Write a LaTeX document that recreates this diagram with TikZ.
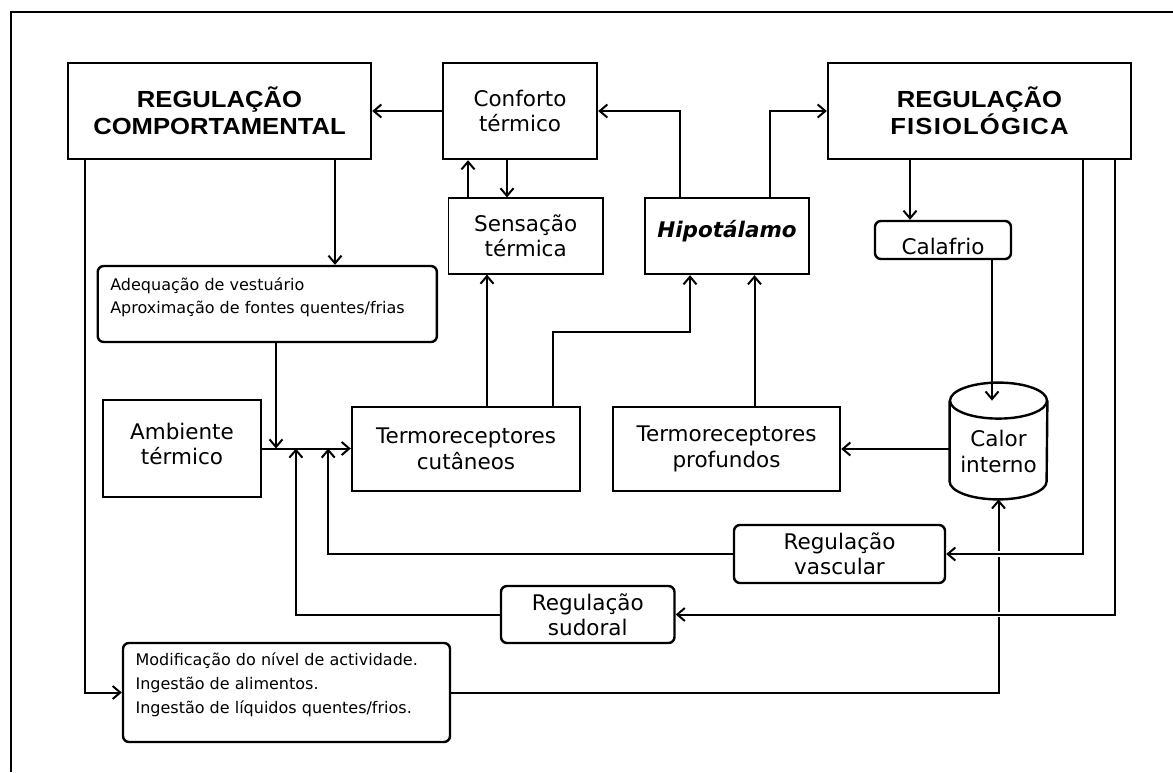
\documentclass[tikz,border=0pt]{standalone}
\usepackage{fontspec}
\setmainfont{DejaVu Sans}
\newfontfamily\headfont{Liberation Sans}[FakeStretch=1.1]
\usetikzlibrary{calc}
\usetikzlibrary{arrows.meta}
\tikzset{
	box/.style={
		draw,
		line width=1.2pt,
		align=center,
		inner sep=0pt,
		font=\fontsize{10.75}{12.75}\selectfont
	},
	headbox/.style={box, minimum width=151.5pt, minimum height=48pt,
		font=\headfont\bfseries\fontsize{11.65}{13.5}\selectfont},
	roundbox/.style={box, rounded corners=3pt},
	listbox/.style={roundbox, inner xsep=6.3pt, inner ysep=4pt},
	cylnode/.style={inner sep=0pt, align=center, minimum width=48.5pt,
		minimum height=58pt, font=\fontsize{10.75}{12.75}\selectfont},
	link/.style={line width=1pt, -{Straight Barb[length=3.8pt,width=6.5pt]}},
	gap/.style={preaction={draw=white, line width=2.8pt, -, shorten <=1pt, shorten >=1pt}}
}

\begin{document}
\begin{tikzpicture}[x=0.5pt,y=-0.5pt]
	\useasboundingbox (0,0) rectangle (1173,772);
	% frame
	\draw[line width=1.1pt] (11,772) -- (11,12) -- (1173,12);
	
	% (top row)
	\node[headbox] (regcomp) at (219.5,111) {REGULAÇÃO\\COMPORTAMENTAL};
	\node[box, minimum width=77pt, minimum height=48pt] (conforto) at (520,111) {Conforto\\térmico};
	\node[headbox] (regfis) at (979.5,111) {REGULAÇÃO\\{\addfontfeature{LetterSpace=5}FISIOLÓGICA}};
	
	\node[box, line width=0.6pt, minimum width=77.25pt, minimum height=38pt] (sensacao) at (525.7,236) {Sensação\\térmica};
	\node[box, minimum width=82pt, minimum height=38pt, text depth=7pt,
		font=\fontsize{10.75}{12.75}\selectfont\bfseries\itshape] (hipot) at (727,236) {Hipotálamo};
	\node[roundbox, minimum width=68pt, minimum height=19pt, text height=14pt, text depth=0pt] (calafrio) at (943,240) {Calafrio};
	\node[listbox, font=\fontsize{8}{11.5}\selectfont] (adequacao) at (267.3,304) {\parbox[c][30pt][t]{157pt}{\raggedright
			\vspace*{2pt}Adequação de vestuário\\Aproximação de fontes quentes/frias}};
	
	% (middle row)
	\node[box, minimum width=79pt, minimum height=48.5pt, text depth=4.5pt] (ambiente) at (182,448.5) {Ambiente\\térmico};
	\node[box, minimum width=114pt, minimum height=42pt] (termcut) at (466,449) {Termoreceptores\\cutâneos};
	\node[box, minimum width=113.5pt, minimum height=42pt] (termprof) at (726.5,449) {Termoreceptores\\profundos};
	\node[cylnode, text height=31pt, text depth=0pt] (calor) at (998.5,441) {Calor\\interno};
	\draw[line width=1.2pt] ($(calor.north west)+(0,18)$) -- ($(calor.south west)+(0,-18)$)
		arc[start angle=180, end angle=360, x radius=24.25pt, y radius=9pt] -- ($(calor.north east)+(0,18)$);
	\draw[line width=1.2pt] ($(calor.north)+(0,18)$) ellipse[x radius=24.25pt, y radius=9pt];
	
	% (bottom row)
	\node[roundbox, minimum width=105.5pt, minimum height=29pt] (regvasc) at (839.5,554) {Regulação\\vascular};
	\node[roundbox, minimum width=86.75pt, minimum height=28.5pt, text depth=-1.5pt] (regsud) at (587.75,614.5) {Regulação\\sudoral};
	\node[listbox, font=\fontsize{8}{12}\selectfont] (modif) at (286.5,692.5) {\parbox[c][41.5pt][t]{150.9pt}{\raggedright
			\vspace*{1pt}Modificação do nível de actividade.\\Ingestão de alimentos.\\Ingestão de líquidos quentes/frios.}};
	
	% connectors
	\draw[link] (conforto.west) -- (regcomp.east);
	\draw[link] ($(hipot.north)+(-47,0)$) |- (conforto.east);
	\draw[link] ($(hipot.north)+(43,0)$) |- (regfis.west);
	\draw[link] ($(sensacao.north)+(-57.7,0)$) coordinate (s1) -- (s1 |- conforto.south);
	\draw[link] ($(conforto.south)+(-13,0)$) coordinate (c1) -- (c1 |- sensacao.north);
	\draw[link] ($(regcomp.south)+(115.5,0)$) coordinate (r1) -- (r1 |- adequacao.north);
	\draw[link] ($(regcomp.south)+(-134.5,0)$) |- (modif.west);
	\draw[link] (ambiente.east) -- (ambiente.east -| termcut.west);
	\draw[link] ($(adequacao.south)+(8.7,0)$) coordinate (a1) -- (a1 |- ambiente.east);
	\draw[link] (regvasc.west) -| ($(ambiente.east)+(66,0)$);
	\draw[link] (regsud.west) -| ($(ambiente.east)+(33.7,0)$);
	\draw[link] ($(termcut.north)+(21,0)$) coordinate (t1) -- (t1 |- sensacao.south);
	\draw[link] ($(termcut.north)+(87,0)$) -- ++(0,-74) -| ($(hipot.south)+(-37,0)$);
	\draw[link] ($(termprof.north)+(28,0)$) coordinate (p1) -- (p1 |- hipot.south);
	\draw[link] (calor.west |- termprof.east) -- (termprof.east);
	\draw[link] ($(regfis.south)+(-69.5,0)$) coordinate (f1) -- (f1 |- calafrio.north);
	\draw[link] ($(calafrio.south)+(49,0)$) coordinate (k1) -- ($(k1 |- calor.north)+(0,18)$);
	\draw[link] (modif.east) -| (calor.south);
	\draw[link, gap] ($(regfis.south)+(103.5,0)$) |- (regvasc.east);
	\draw[link, gap] ($(regfis.south)+(135.5,0)$) |- (regsud.east);
	
\end{tikzpicture}
\end{document}
